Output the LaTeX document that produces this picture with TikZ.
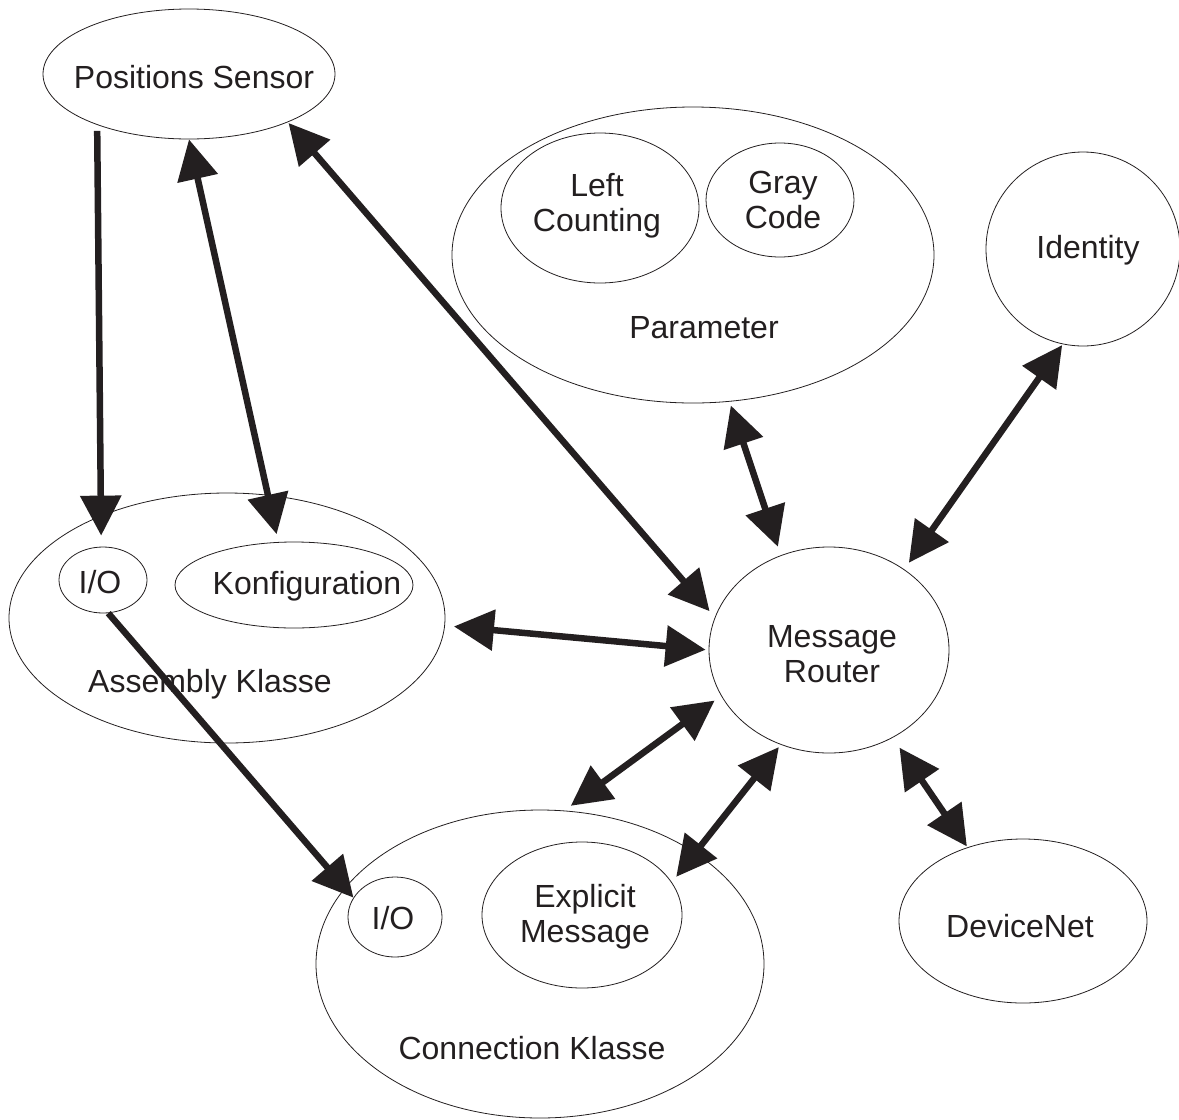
\documentclass[tikz,border=0pt]{standalone}
\usepackage{fontspec}
\setmainfont{Liberation Sans}
\usetikzlibrary{shapes.geometric,arrows.meta}
\definecolor{ink}{HTML}{231F20}
\tikzset{
  obj/.style={draw=ink, line width=0.8pt, ellipse, inner sep=0pt},
  lbl/.style={font=\fontsize{32}{35}\selectfont, text=ink, inner sep=0pt, align=center, anchor=base},
  link/.style={draw=ink, line width=6.5pt, -{Triangle[length=40pt,width=40pt]}},
  dlink/.style={link, {Triangle[length=40pt,width=40pt]}-{Triangle[length=40pt,width=40pt]}},
}
\begin{document}
\begin{tikzpicture}[x=1pt,y=-1pt]
\useasboundingbox (0,0) rectangle (1179,1120);
% Objects (name/x/y/width/height)
\foreach \n/\x/\y/\w/\h in {
  ps/189/74/292/130,
  par/693/255/482/296,
  lc/600/208/198/150,
  gc/780/200/148/114,
  id/1083/249/194/194,
  asm/227/618/436/250,
  aio/103/580/88/66,
  konf/294/585/238/86,
  mr/829/650/240/206,
  con/540/964/448/308,
  cio/395/917/94/80,
  em/582/915/200/146,
  dn/1023/921/248/164
} {
  \node[obj, minimum width=\w pt, minimum height=\h pt] (\n) at (\x,\y) {};
}
% Labels (base = last line)
\node[lbl] (tps) at (194,88) {Positions Sensor};
\node[lbl] (tlc) at (597,231) {Left\\Counting};
\node[lbl] (tgc) at (783,228) {Gray\\Code};
\node[lbl] (tpar) at (704,338) {Parameter};
\node[lbl] (tid) at (1088,258) {Identity};
\node[lbl] (taio) at (100,593) {I/O};
\node[lbl] (tkonf) at (307,594) {Konfiguration};
\node[lbl] (tasm) at (210,692) {Assembly Klasse};
\node[lbl] (tmr) at (832,682) {Message\\Router};
\node[lbl] (tem) at (585,942) {Explicit\\Message};
\node[lbl] (tcio) at (393,929) {I/O};
\node[lbl] (tcon) at (532,1059) {Connection Klasse};
\node[lbl] (tdn) at (1020,937) {DeviceNet};
% Arrows
\draw[link, shorten <=6pt, shorten >=11pt] (ps.-151.8) -- (aio.93.9);
\draw[link] (aio.-81.1) -- (cio.155.7);
\foreach \a/\b/\s/\e in {
  ps.-90.9/konf.110.8/0/8,
  ps.-26.6/mr.164.9/1/8,
  par.-76.1/mr.117.9/4/9,
  id.-102.3/mr.47.8/1/8,
  asm.-2.3/mr.180/9/3,
  mr.-157.5/con.81.2/8/8,
  mr.-117.3/em.20/3/7,
  mr.-54.9/dn.127.1/12/1
} {
  \draw[dlink, shorten <=\s pt, shorten >=\e pt] (\a) -- (\b);
}
\end{tikzpicture}
\end{document}
